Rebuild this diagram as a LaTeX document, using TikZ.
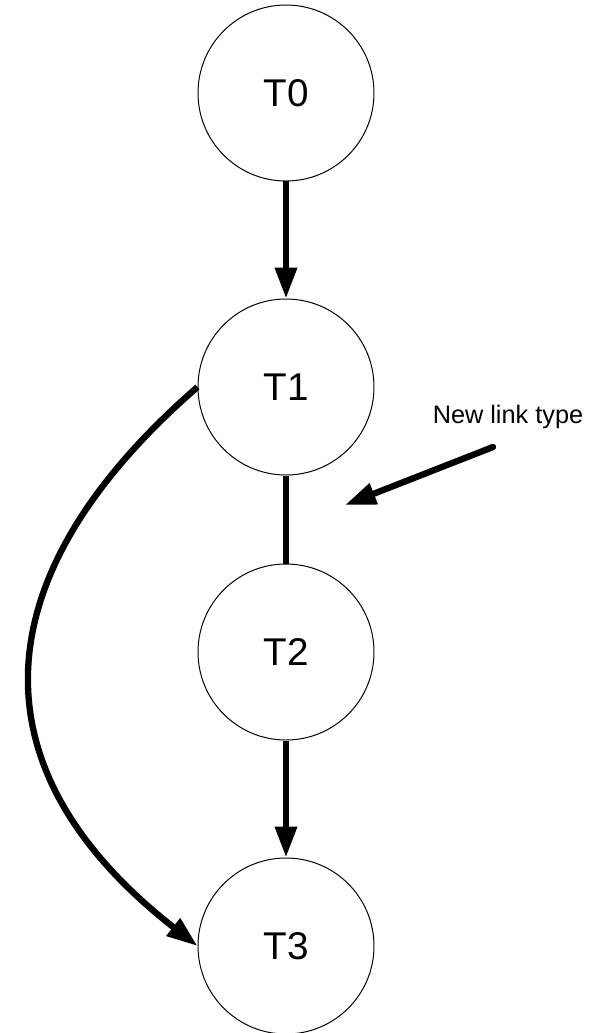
\documentclass[tikz,border=0pt]{standalone}
\usepackage{fontspec}
\setmainfont{Liberation Sans}
\usetikzlibrary{arrows.meta}
\tikzset{
	state/.style={draw, circle, line width=0.7pt, minimum size=4.4cm, inner sep=0pt, font=\fontsize{27.5}{33}\selectfont},
	link/.style={line width=4.5pt},
	head/.style={-{Triangle[length=22pt, width=15pt]}}
}
\begin{document}
\begin{tikzpicture}

\useasboundingbox (0, 0) rectangle (15, -25.825);

\foreach \tname/\y in {T0/-2.325, T1/-9.675, T2/-16.3, T3/-23.65}
\node[state] (\tname) at (7.15, \y) {\tname};

\draw[link, head] (T0) -- (T1);
\draw[link] (T1) -- (T2);
\draw[link, head] (T2) -- (T3);
\draw[link, head] (T1.west) to[out=221, in=142, looseness=1.32] (T3.west);

\node (newlink) at (12.7, -10.425) {\fontsize{18}{22}\selectfont New link type};
\coordinate (tail) at (12.325, -11.175);
\coordinate (tip) at (8.625, -12.625);
\draw[link, head, line cap=round] (tail) -- (tip);

\end{tikzpicture}
\end{document}
